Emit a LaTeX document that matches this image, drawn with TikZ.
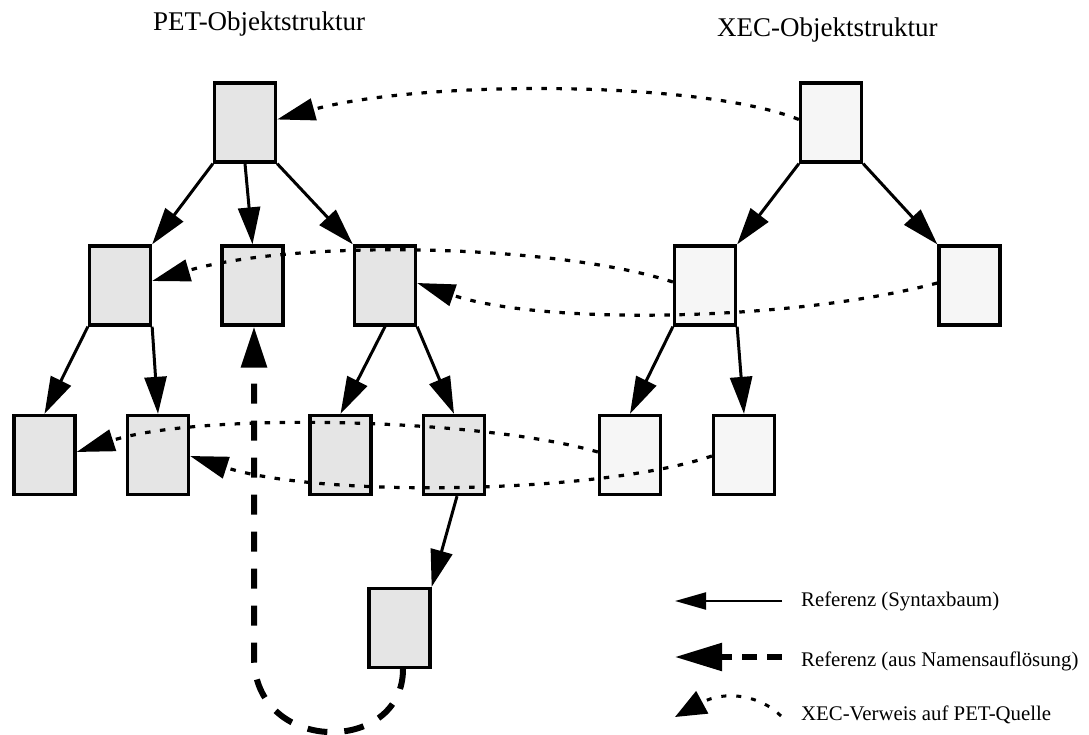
\documentclass[tikz,border=0pt]{standalone}
\usepackage{fontspec}
\setmainfont{Liberation Serif}
\usetikzlibrary{arrows.meta,calc}
\definecolor{petgray}{RGB}{229,229,229}
\definecolor{xecgray}{RGB}{246,246,246}
\begin{document}
\begin{tikzpicture}[x=1pt,y=-1pt,
  petbox/.style={draw, line width=3.3pt, fill=petgray, minimum width=61pt, minimum height=79pt, inner sep=0pt},
  xecbox/.style={petbox, fill=xecgray},
  syntax/.style={line width=3pt, -{Triangle[length=37pt,width=22pt]}},
  resolved/.style={line width=6pt, dash pattern=on 20pt off 17pt, -{Triangle[length=41pt,width=25pt]}},
  xref/.style={line width=3.2pt, dash pattern=on 5.5pt off 9.5pt, -{Triangle[length=38pt,width=22pt]}},
  title/.style={font=\fontsize{27}{31}\selectfont, anchor=base west, inner sep=0pt},
  legtext/.style={font=\fontsize{20.8}{24}\selectfont, anchor=base west, inner sep=0pt}]
\useasboundingbox (0,0) rectangle (1089,735);

% titles
\node[title] (tpet) at (153,31) {PET-Objektstruktur};
\node[title] (txec) at (717,37) {XEC-Objektstruktur};

% PET object structure
\node[petbox] (P0) at (245,122.5) {};
\node[petbox] (B1) at (120,285.5) {};
\node[petbox] (B2) at (252.5,285.5) {};
\node[petbox] (B3) at (385,285.5) {};
\node[petbox] (C1) at (44.5,455) {};
\node[petbox] (C2) at (158,455) {};
\node[petbox] (C3) at (340.5,455) {};
\node[petbox] (C4) at (454,455) {};
\node[petbox] (D)  at (399.5,628) {};

% XEC object structure
\node[xecbox] (X0) at (831,122.5) {};
\node[xecbox] (X1) at (705,285.5) {};
\node[xecbox] (X2) at (969.5,285.5) {};
\node[xecbox] (X3) at (630,455) {};
\node[xecbox] (X4) at (744,455) {};

% syntax tree references
\draw[syntax] (P0.south west) -- (B1.north east);
\draw[syntax] (P0.south) -- (B2.north);
\draw[syntax] (P0.south east) -- (B3.north west);
\draw[syntax] (B1.south west) -- (C1.north);
\draw[syntax] (B1.south east) -- (C2.north);
\draw[syntax] (B3.south) -- (C3.north);
\draw[syntax] (B3.south east) -- (C4.north);
\draw[syntax] ([xshift=3pt]C4.south) -- (D.north east);
\draw[syntax] (X0.south west) -- (X1.north east);
\draw[syntax] (X0.south east) -- (X2.north west);
\draw[syntax] (X1.south west) -- (X3.north);
\draw[syntax] (X1.south east) -- (X4.north);

% reference from name resolution
\coordinate (bend) at (254,657);
\draw[resolved] ([xshift=3.5pt]D.south) .. controls (403,755) and (254,755) .. (bend) -- ([xshift=1.5pt]B2.south);

% XEC links to PET sources
\draw[xref] ([yshift=3pt]X0.west) .. controls (700,80) and (420,80) .. ([yshift=3pt]P0.east);
\draw[xref] ([yshift=3.5pt]X1.west) .. controls (560,245) and (300,238) .. ([yshift=4.5pt]B1.east);
\draw[xref] ([yshift=2.5pt]X2.west) .. controls (790,322) and (540,325) .. ([yshift=2.5pt]B3.east);
\draw[xref] ([yshift=3pt]X3.west) .. controls (480,418) and (200,412) .. ([yshift=3pt]C1.east);
\draw[xref] ([yshift=-1pt]X4.west) .. controls (600,494) and (320,498) .. ([yshift=-1pt]C2.east);

% legend
\coordinate (l1a) at (782,601);
\coordinate (l1b) at (675,601);
\coordinate (l2a) at (782,657);
\coordinate (l2b) at (675,657);
\coordinate (l3a) at (781,716);
\coordinate (l3b) at (675,717);
\draw[line width=2.2pt, -{Triangle[length=31pt,width=17pt]}] (l1a) -- (l1b);
\draw[line width=5.5pt, dash pattern=on 15pt off 10pt, -{Triangle[length=47pt,width=27pt]}] (l2a) -- (l2b);
\draw[line width=3pt, dash pattern=on 5pt off 10pt, -{Triangle[length=31pt,width=25pt]}] (l3a) .. controls (760,695) and (725,690) .. (l3b);
\node[legtext] (lt1) at (801,606.7) {Referenz (Syntaxbaum)};
\node[legtext] (lt2) at (801,666) {Referenz (aus Namensauflösung)};
\node[legtext] (lt3) at (801,720) {XEC-Verweis auf PET-Quelle};
\end{tikzpicture}
\end{document}
